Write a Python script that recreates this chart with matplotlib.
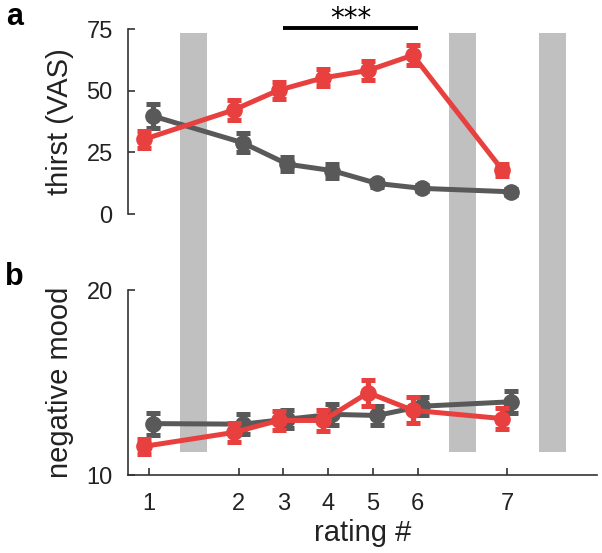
import numpy as np
import matplotlib
matplotlib.use('Agg')
import matplotlib.pyplot as plt

plt.rcParams['font.family'] = ['Liberation Sans', 'DejaVu Sans']

# x positions of the ratings (gaps where the drink breaks are)
rating_pos = [0, 2, 3, 4, 5, 6, 8]
rating_lab = ['1', '2', '3', '4', '5', '6', '7']
drink_pos = [1, 7, 9]

thirst_red = [30.3, 42.2, 50.2, 55.2, 58.2, 64.4, 17.8]
thirst_red_err = [3.5, 4.0, 3.5, 3.5, 4.0, 4.0, 2.5]
thirst_gray = [39.7, 28.9, 20.2, 17.6, 12.4, 10.4, 9.0]
thirst_gray_err = [4.8, 3.8, 2.8, 2.8, 1.5, 1.2, 1.2]

mood_red = [11.55, 12.3, 12.95, 12.95, 14.45, 13.5, 13.05]
mood_red_err = [0.4, 0.5, 0.5, 0.55, 0.7, 0.7, 0.55]
mood_gray = [12.78, 12.75, 13.02, 13.28, 13.22, 13.72, 13.96]
mood_gray_err = [0.6, 0.55, 0.5, 0.55, 0.5, 0.5, 0.6]

red = '#e8403f'
gray = '#595959'
barc = '#c0c0c0'
axc = '#333333'

fig = plt.figure(figsize=(6.02, 5.53), dpi=100)
ax1 = fig.add_axes([0.2126, 0.6130, 0.7791, 0.3345])
ax2 = fig.add_axes([0.2126, 0.1410, 0.7791, 0.3345], sharex=ax1)

pos = np.array(rating_pos, dtype=float)


def draw(ax, yg, eg, yr, er):
    ax.errorbar(pos + 0.09, yg, yerr=eg, color=gray, lw=3.6, marker='o', ms=11,
                elinewidth=3.8, capsize=5, capthick=3.6, zorder=3)
    ax.errorbar(pos - 0.11, yr, yerr=er, color=red, lw=3.6, marker='o', ms=11,
                elinewidth=3.8, capsize=5, capthick=3.6, zorder=4)


draw(ax1, thirst_gray, thirst_gray_err, thirst_red, thirst_red_err)
draw(ax2, mood_gray, mood_gray_err, mood_red, mood_red_err)

# gray drink bars spanning both panels
for d in drink_pos:
    ax1.bar(d, 73.4 + 31.0, bottom=-31.0, width=0.6, color=barc, zorder=1, clip_on=False)
    ax2.bar(d, 20 - 11.24, bottom=11.24, width=0.6, color=barc, zorder=1, clip_on=False)

# significance bar
ax1.plot([3, 6], [75.6, 75.6], color='black', lw=2.8, clip_on=False, solid_capstyle='butt')
ax1.text(4.5, 75.9, '***', ha='center', va='baseline', fontsize=20,
         family='DejaVu Sans', clip_on=False)

ax1.set_xlim(-0.47, 10)
ax1.set_ylim(0, 75)
ax2.set_ylim(10, 20)

for ax in (ax1, ax2):
    ax.set_facecolor('none')
    ax.spines['top'].set_visible(False)
    ax.spines['right'].set_visible(False)
    ax.spines['left'].set_color(axc)
    ax.spines['bottom'].set_color(axc)
    ax.spines['left'].set_linewidth(1.2)
    ax.spines['bottom'].set_linewidth(1.2)
    ax.tick_params(direction='in', length=5, width=1.2, color=axc,
                   labelsize=17, labelcolor='#222222')
    ax.tick_params(axis='y', pad=11)
    ax.tick_params(axis='x', pad=13)

ax1.spines['bottom'].set_visible(False)
ax1.tick_params(axis='x', bottom=False, labelbottom=False)
ax1.set_yticks([0, 25, 50, 75])
ax2.set_yticks([10, 20])
ax2.set_xticks(rating_pos)
ax2.set_xticklabels(rating_lab)

ax1.set_ylabel('thirst (VAS)', fontsize=21, color='#222222', labelpad=9)
ax2.set_ylabel('negative mood', fontsize=21, color='#222222', labelpad=9)
ax2.set_xlabel('rating #', fontsize=21, color='#222222', labelpad=3)

fig.text(0.024, 0.970, 'a', fontsize=22, fontweight='bold', ha='center', va='center')
fig.text(0.024, 0.499, 'b', fontsize=22, fontweight='bold', ha='center', va='center')

fig.savefig('out.png', dpi=100)
